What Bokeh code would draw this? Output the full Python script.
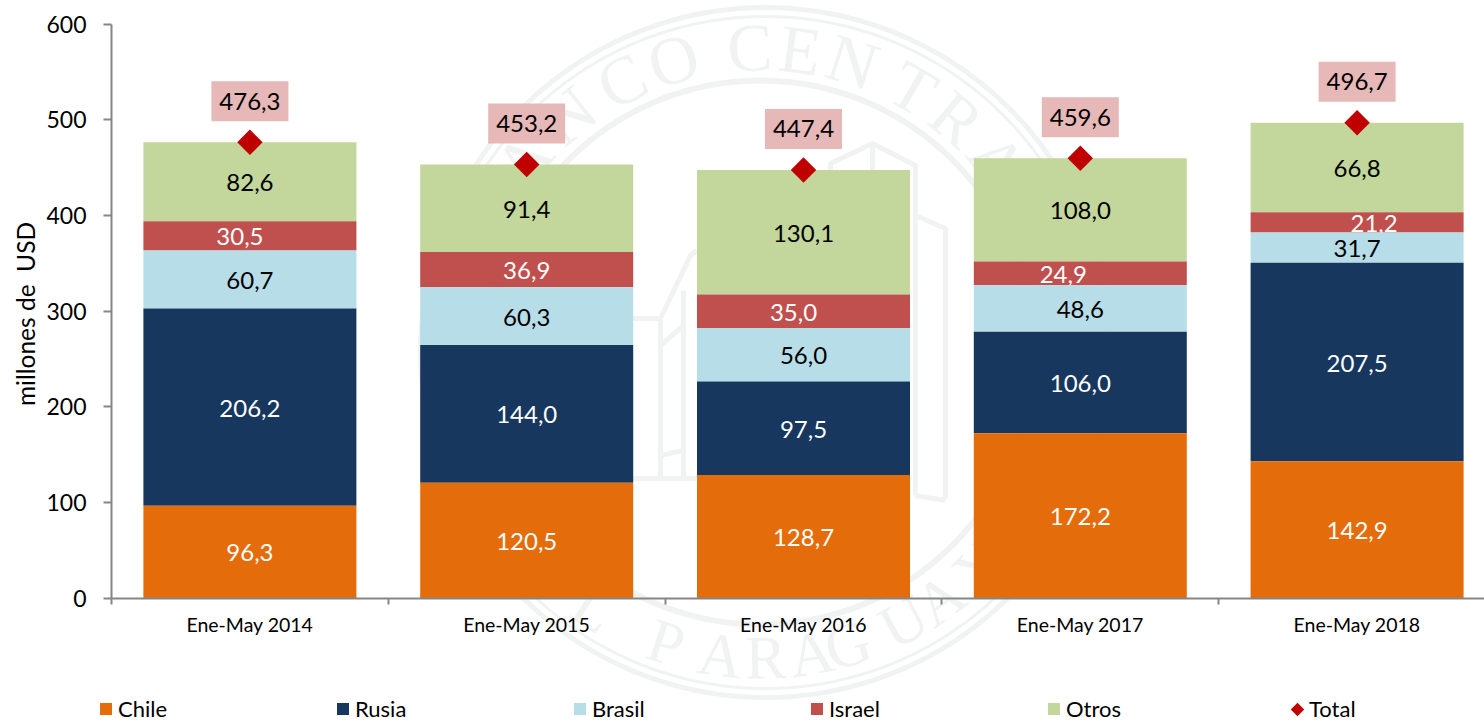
import math
from bokeh.core.properties import value
from bokeh.embed import file_html
from bokeh.models import ColumnDataSource, FixedTicker, Legend, LegendItem, Range1d
from bokeh.plotting import figure
from bokeh.resources import INLINE

periods = ["Ene-May 2014", "Ene-May 2015", "Ene-May 2016", "Ene-May 2017", "Ene-May 2018"]
chile = [96.3, 120.5, 128.7, 172.2, 142.9]
rusia = [206.2, 144.0, 97.5, 106.0, 207.5]
brasil = [60.7, 60.3, 56.0, 48.6, 31.7]
israel = [30.5, 36.9, 35.0, 24.9, 21.2]
otros = [82.6, 91.4, 130.1, 108.0, 66.8]
# the top band of the last bar is drawn taller than its printed label: it reaches the total
otros_drawn = [82.6, 91.4, 130.1, 108.0, 93.4]
total = [476.3, 453.2, 447.4, 459.6, 496.7]
y_ticks = [0, 100, 200, 300, 400, 500, 600]

FONT = "Lato"
names = ["Chile", "Rusia", "Brasil", "Israel", "Otros"]
printed = [chile, rusia, brasil, israel, otros]
drawn = [chile, rusia, brasil, israel, otros_drawn]
colors = ["#E46C0A", "#17375E", "#B7DDE8", "#C0504D", "#C3D69B"]
label_colors = ["white", "white", "black", "white", "black"]
label_dx = [[0]*5, [0]*5, [0]*5, [-10, 0, -10, -17, 17], [0]*5]
comma = lambda v: f"{v:.1f}".replace(".", ",")

W, H = 1484, 721
LEFT, Y0 = 111, 597.5
CAT_PX = 276.8
Y_PX = 574.0 / 600.0

# the frame fills the whole canvas, so that axes and legend share one drawing area
p = figure(width=W, height=H, output_backend="svg", toolbar_location=None,
           x_range=Range1d(-LEFT / CAT_PX, (W - LEFT) / CAT_PX),
           y_range=Range1d(-(H - Y0) / Y_PX, Y0 / Y_PX),
           min_border_left=0, min_border_right=0, min_border_top=0, min_border_bottom=0,
           outline_line_color=None, background_fill_color="white")
p.grid.visible = False

# faint seal behind the chart (pixel geometry converted to data space)
WM = "#F0F3F2"
CX, CY = 760.0, 352.0
def px(x):
    return (x - LEFT) / CAT_PX
def py(y):
    return (Y0 - y) / Y_PX
def ring(cx, r, w):
    a = [i * math.pi / 90 for i in range(181)]
    p.line([px(cx + r * math.cos(t)) for t in a], [py(CY + r * math.sin(t)) for t in a],
           line_color=WM, line_width=w)
ring(765, 345, 5)
ring(765, 336, 3)
ring(CX, 272, 6)
wm_font = value("Liberation Serif")
top_text = [("B", -63), ("A", -51), ("N", -39), ("C", -27), ("O", -16.6), ("C", -2), ("E", 7.5), ("N", 17.6),
            ("T", 30), ("R", 40), ("A", 51), ("L", 62)]
for ch, deg in top_text:
    t = math.radians(deg)
    p.text([px(CX + 305 * math.sin(t))], [py(CY - 305 * math.cos(t))], text=[ch], angle=-t,
           text_font=wm_font, text_font_size="68px", text_color=WM, text_align="center",
           text_baseline="middle")
bottom_text = [("D", -55), ("E", -44), ("L", -33), ("P", -18), ("A", -7.5), ("R", 1), ("A", 9.6), ("G", 16.6),
               ("U", 28), ("A", 36), ("Y", 46)]
for ch, deg in bottom_text:
    t = math.radians(deg)
    p.text([px(CX + 305 * math.sin(t))], [py(CY + 305 * math.cos(t))], text=[ch], angle=t,
           text_font=wm_font, text_font_size="62px", text_color=WM, text_align="center",
           text_baseline="middle")
for xs_px, ys_px in [
    ((830, 830, 872, 915, 915), (280, 163, 143, 165, 495)),
    ((872, 872), (143, 200)),
    ((630, 660, 690, 696), (318, 318, 255, 250)),
    ((660, 660), (318, 478)),
    ((683, 683), (290, 478)),
    ((660, 683), (345, 325)),
    ((660, 683), (455, 450)),
    ((630, 696), (478, 478)),
    ((915, 945, 945), (215, 228, 498)),
    ((915, 945), (495, 500)),
]:
    p.line([px(v) for v in xs_px], [py(v) for v in ys_px], line_color=WM, line_width=5)

xs = [i + 0.5 for i in range(len(periods))]
bottoms = [0.0] * len(periods)
stack = []
for vals in drawn:
    tops = [b + v for b, v in zip(bottoms, vals)]
    stack.append((bottoms, tops))
    bottoms = tops

renderers = {}
# drawn top of the stack first, so a label that overflows its band is covered by the band below
for k in range(4, -1, -1):
    b, t = stack[k]
    src = ColumnDataSource(dict(x=xs, bottom=b, top=t))
    renderers[names[k]] = p.vbar(x="x", bottom="bottom", top="top", width=213 / CAT_PX, source=src,
                                 fill_color=colors[k], line_color=None)
    lab = ColumnDataSource(dict(x=xs, y=[(u + v) / 2 for u, v in zip(b, t)],
                                t=[comma(v) for v in printed[k]], dx=label_dx[k]))
    p.text(x="x", y="y", text="t", x_offset="dx", y_offset=1, source=lab, text_font=value(FONT),
           text_font_size="24px", text_color=label_colors[k], text_align="center", text_baseline="middle")

box_y = [v + 41 / Y_PX for v in total]
p.rect(x=xs, y=box_y, width=77, height=40, width_units="screen", height_units="screen",
       fill_color="#E6B8B7", line_color=None)
p.text(x=xs, y=box_y, text=[comma(v) for v in total], text_font=value(FONT), text_font_size="24px",
       text_color="black", text_align="center", text_baseline="middle")
DIAMOND = dict(marker="square", angle=math.pi / 4, fill_color="#C00000", line_color=None)
p.scatter(x=xs, y=total, size=18, **DIAMOND)

xa = p.xaxis[0]
xa.fixed_location = 0
xa.bounds = (0, (W - LEFT) / CAT_PX)
xa.ticker = FixedTicker(ticks=xs, minor_ticks=list(range(len(periods) + 1)))
xa.major_label_overrides = {x: n for x, n in zip(xs, periods)}
xa.major_tick_line_color = None
xa.minor_tick_line_color = "#868686"
xa.minor_tick_line_width = 2
xa.minor_tick_in = 0
xa.minor_tick_out = 6
xa.axis_line_color = "#868686"
xa.axis_line_width = 2
xa.major_label_text_font = FONT
xa.major_label_text_font_size = "19.5px"
xa.major_label_text_color = "black"
xa.major_label_standoff = 9

ya = p.yaxis[0]
ya.fixed_location = 0
ya.bounds = (0, 600)
ya.ticker = FixedTicker(ticks=y_ticks, minor_ticks=[])
ya.major_tick_line_color = "#868686"
ya.major_tick_line_width = 2
ya.major_tick_in = 0
ya.major_tick_out = 8
ya.axis_line_color = "#868686"
ya.axis_line_width = 2
ya.major_label_text_font = FONT
ya.major_label_text_font_size = "23px"
ya.major_label_text_color = "black"
ya.major_label_standoff = 17

p.text(x=[px(25)], y=[py(313.5)], text=["millones de\u00a0 USD"], angle=math.pi / 2,
       text_font=value(FONT), text_font_size="24.5px", text_color="black",
       text_align="center", text_baseline="middle")

legend = Legend(items=[LegendItem(label=n, renderers=[renderers[n]]) for n in names],
                orientation="horizontal", location=(98, -1), border_line_color=None,
                background_fill_alpha=0, padding=0, margin=0, spacing=0,
                glyph_width=15, glyph_height=15, label_width=217, label_standoff=5,
                label_text_font=FONT, label_text_font_size="22px", label_text_color="black")
p.add_layout(legend, "center")

# Bokeh's legend does not rotate a marker, so the legend's diamond is drawn beside an empty key
ghost = p.scatter(x=xs, y=total, size=0, marker="square", fill_alpha=0, line_alpha=0)
legend_total = Legend(items=[LegendItem(label="Total", renderers=[ghost])],
                      orientation="horizontal", location=(1285, -1), border_line_color=None,
                      background_fill_alpha=0, padding=0, margin=0, spacing=0,
                      glyph_width=24, glyph_height=24, label_standoff=0,
                      label_text_font=FONT, label_text_font_size="22px", label_text_color="black")
p.add_layout(legend_total, "center")
p.scatter(x=[px(1297)], y=[py(709)], size=9.5, **DIAMOND)

open("out.html", "w").write(file_html(p, INLINE))
